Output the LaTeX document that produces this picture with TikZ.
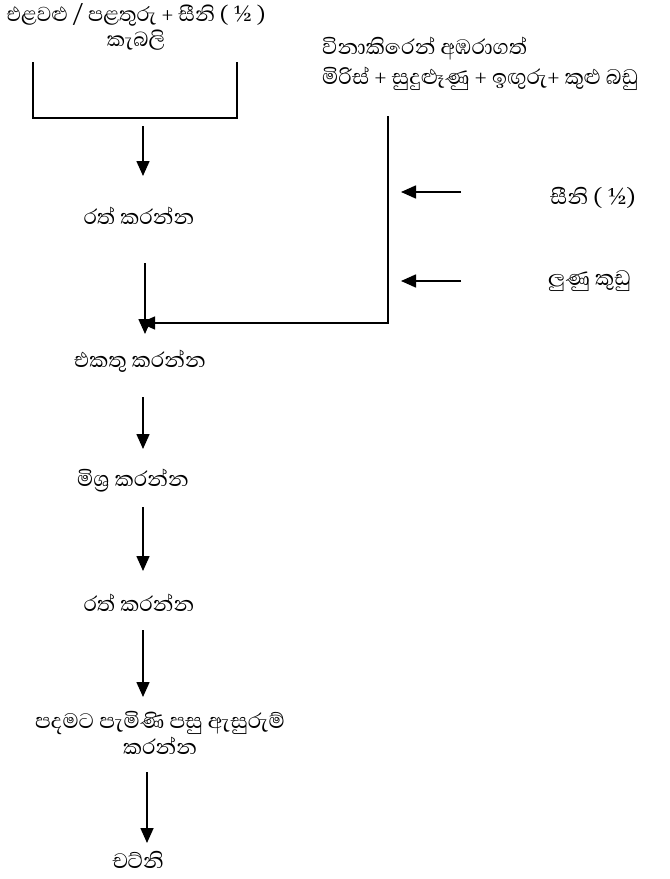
\documentclass[tikz,border=0pt]{standalone}
\usepackage{fontspec}
\newfontfamily\sinfont[Script=Sinhala]{Abhaya Libre}
\usetikzlibrary{arrows.meta}
\tikzset{
  lbl/.style={font=\sinfont\fontsize{27}{26}\selectfont, inner sep=0pt, align=center},
  arr/.style={line width=1.6bp, -{Triangle[length=15bp,width=13bp]}},
  ln/.style={line width=1.4bp}
}
\begin{document}
\begin{tikzpicture}[x=1bp,y=-1bp]
\useasboundingbox (0,0) rectangle (670,879);
% texts
\node[lbl,font=\sinfont\fontsize{26}{25}\selectfont] (top) at (136,27) {එළවළු / පළතුරු + සීනි ( ½ )\\කැබලි};
\node[lbl,anchor=west] (r1) at (322,49) {විනාකිරෙන් අඹරාගත්};
\node[lbl,anchor=west] (r2) at (322,79) {මිරිස් + සුදුළූණු + ඉඟුරු+ කුළු බඩු};
\node[lbl,anchor=west] (sugar) at (550,198) {සීනි ( ½)};
\node[lbl,anchor=west] (salt) at (548,281) {ලුණු කුඩු};
\node[lbl] (heat1) at (139,216) {රත් කරන්න};
\node[lbl] (add) at (140,361) {එකතු කරන්න};
\node[lbl] (mix) at (133,481) {මිශ්‍ර කරන්න};
\node[lbl] (heat2) at (139,603) {රත් කරන්න};
\node[lbl] (pack) at (160,733) {පදමට පැමිණි පසු ඇසුරුම්\\කරන්න};
\node[lbl] (chut) at (138,860) {චට්නි};
% bracket
\coordinate (bl) at (33,62);
\coordinate (br) at (237,62);
\draw[ln] (bl) -- (33,118) -- (237,118) -- (br);
% right feed line
\coordinate (rt) at (388,116);
\coordinate (rb) at (388,323);
\coordinate (rj) at (140,323);
\draw[ln,-{Triangle[length=15bp,width=13bp]}] (rt) -- (rb) -- (rj);
% side arrows
\coordinate (s1a) at (461,192); \coordinate (s1b) at (401,192);
\coordinate (s2a) at (461,281); \coordinate (s2b) at (401,281);
\draw[arr] (s1a) -- (s1b);
\draw[arr] (s2a) -- (s2b);
% vertical arrows
\coordinate (a1s) at (143,126); \coordinate (a1e) at (143,176);
\coordinate (a2s) at (145,263); \coordinate (a2e) at (145,334);
\coordinate (a3s) at (143,397); \coordinate (a3e) at (143,449);
\coordinate (a4s) at (143,507); \coordinate (a4e) at (143,571);
\coordinate (a5s) at (143,630); \coordinate (a5e) at (143,697);
\coordinate (a6s) at (147,772); \coordinate (a6e) at (147,843);
\draw[arr] (a1s) -- (a1e);
\draw[arr] (a2s) -- (a2e);
\draw[arr] (a3s) -- (a3e);
\draw[arr] (a4s) -- (a4e);
\draw[arr] (a5s) -- (a5e);
\draw[arr] (a6s) -- (a6e);
\end{tikzpicture}
\end{document}
